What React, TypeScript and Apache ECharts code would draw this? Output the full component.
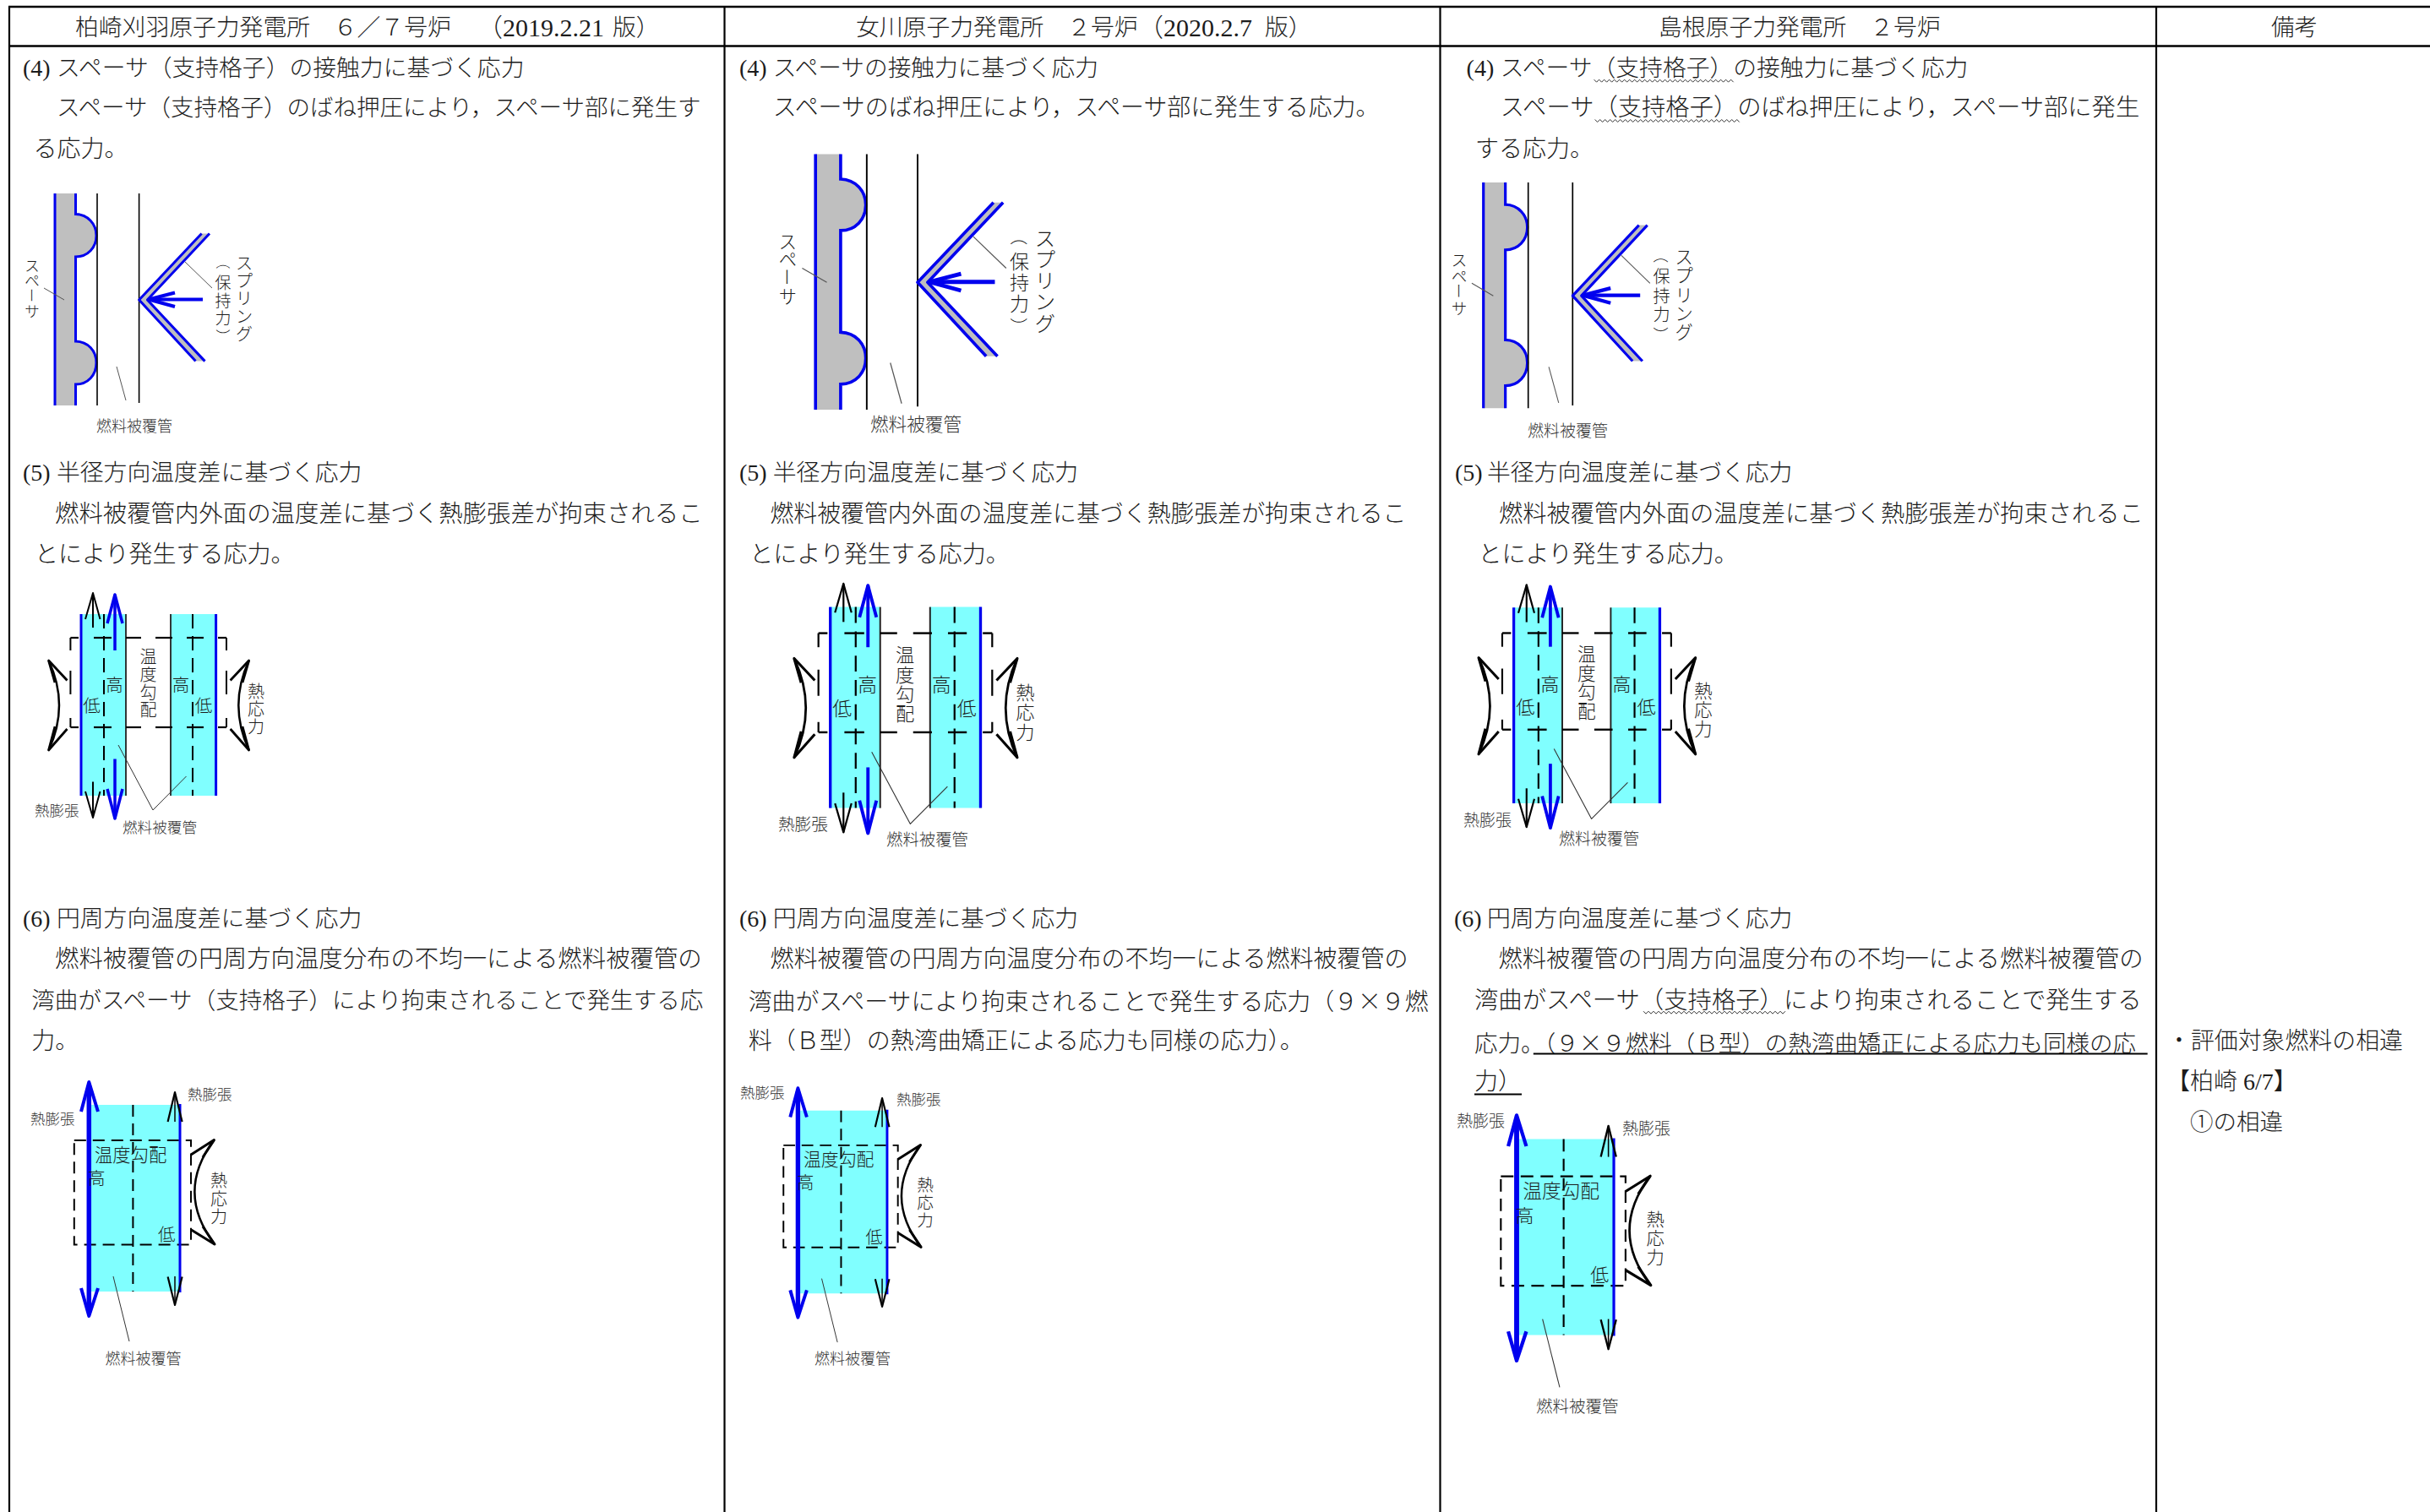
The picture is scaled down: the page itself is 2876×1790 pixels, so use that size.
import React, { useEffect, useRef } from "react";
import * as echarts from "echarts";

const headers = ["柏崎刈羽原子力発電所　６／７号炉", "（2019.2.21", "版）", "女川原子力発電所　２号炉", "（2020.2.7", "版）", "島根原子力発電所　２号炉", "備考"];
const col1Lines = [
  "(4)", "スペーサ（支持格子）の接触力に基づく応力", "スペーサ（支持格子）のばね押圧により，スペーサ部に発生す", "る応力。",
  "(5)", "半径方向温度差に基づく応力", "燃料被覆管内外面の温度差に基づく熱膨張差が拘束されるこ", "とにより発生する応力。",
  "(6)", "円周方向温度差に基づく応力", "燃料被覆管の円周方向温度分布の不均一による燃料被覆管の", "湾曲がスペーサ（支持格子）により拘束されることで発生する応", "力。",
];
const col2Lines = [
  "(4)", "スペーサの接触力に基づく応力", "スペーサのばね押圧により，スペーサ部に発生する応力。",
  "(5)", "半径方向温度差に基づく応力", "燃料被覆管内外面の温度差に基づく熱膨張差が拘束されるこ", "とにより発生する応力。",
  "(6)", "円周方向温度差に基づく応力", "燃料被覆管の円周方向温度分布の不均一による燃料被覆管の", "湾曲がスペーサにより拘束されることで発生する応力（９×９燃", "料（Ｂ型）の熱湾曲矯正による応力も同様の応力）。",
];
const col3Lines = [
  "(4)", "スペーサ（支持格子）の接触力に基づく応力", "スペーサ（支持格子）のばね押圧により，スペーサ部に発生", "する応力。",
  "(5)", "半径方向温度差に基づく応力", "燃料被覆管内外面の温度差に基づく熱膨張差が拘束されるこ", "とにより発生する応力。",
  "(6)", "円周方向温度差に基づく応力", "燃料被覆管の円周方向温度分布の不均一による燃料被覆管の", "湾曲がスペーサ（支持格子）により拘束されることで発生する", "応力。（９×９燃料（Ｂ型）の熱湾曲矯正による応力も同様の応", "力）",
];
const remarkLines = ["・評価対象燃料の相違", "【柏崎 6/7】", "①の相違"];

const col1Layout = [[27,80,28],[67,80,27.8],[67,127.5,27.5],[39.5,176.5,28],[27,559,28],[67,559,27.8],[65,608.4,28.4],[41,656,28],[27,1087,28],[67,1087,27.8],[65,1135,28.4],[37.3,1184,27.56],[37.3,1232.6,28]];
const col2Layout = [[875,80,28],[914.7,80,27.7],[914.7,127.5,27.9],[875,559,28],[914.7,559,27.8],[911.4,608.4,27.9],[887.3,656,28],[875,1087,28],[914.7,1087,27.8],[911.4,1135,28],[885.7,1184,27.9],[885.7,1232.6,28]];
const col3Layout = [[1735.6,80,28],[1775.8,80,27.8],[1775.8,127.5,28.3],[1746,176.5,28],[1722,559,28],[1760,559,27.8],[1774,608.4,28.25],[1749.4,656,28],[1721,1087,28],[1760,1087,27.8],[1773.5,1135,28.3],[1745,1184,28.35],[1745,1232.6,27.5],[1745,1280,28]];
const remarkLayout = [[2565,1232.6,27.9],[2564,1280,28],[2592,1328,27.5]];
const headerLayout = [[89,32,27.8],[565,32,30],[725,32,27.8],[1013,32,27.8],[1347,32,30],[1497,32,27.8],[1963,32,27.8],[2688,32,27.5]];

const INK = "#1c1c1c";
const BLUE = "#0000ee";
const CYAN = "#80ffff";
const GRAY = "#bfbfbf";
const FONT = '"Liberation Serif","Noto Sans CJK JP",sans-serif';
const CJK = '"Noto Sans CJK JP",sans-serif';

echarts.graphic.registerShape("spacerBody", echarts.graphic.extendPath("M65 229H89.5V253.5C104 254 114 265 114 279C114 293 104 304 89.5 304V404C104 404.5 114 415 114 429.5C114 444 104 455 89.5 455V480H65Z", {}));
echarts.graphic.registerShape("spacerNeck", echarts.graphic.extendPath("M89.5 229V253.5C104 254 114 265 114 279C114 293 104 304 89.5 304V404C104 404.5 114 415 114 429.5C114 444 104 455 89.5 455V480", {}));

function T(x: number, y: number, text: string, fs: number, o: any = {}) {
  return { type: "text", x, y, rotation: o.rot || 0, silent: true, style: { text, fontSize: fs, lineHeight: o.lh, fontFamily: o.f || FONT, fontWeight: o.w || 300, fill: o.c || INK, align: o.a || "left", verticalAlign: "middle" } };
}
function L(x1: number, y1: number, x2: number, y2: number, stroke = "#000", lineWidth = 2, lineDash?: number[]) {
  return { type: "line", silent: true, shape: { x1, y1, x2, y2 }, style: { stroke, lineWidth, lineDash } };
}
function P(points: number[][], stroke = "#000", lineWidth = 2) {
  return { type: "polyline", silent: true, shape: { points }, style: { stroke, lineWidth, fill: null, lineJoin: "round" } };
}
function R(x: number, y: number, width: number, height: number, fill: string) {
  return { type: "rect", silent: true, shape: { x, y, width, height }, style: { fill } };
}
function V(x: number, yc: number, str: string, fs: number, pitch: number, c = INK) {
  const chars = Array.from(str);
  const n = chars.length;
  const out: any[] = [];
  const yAt = (i: number) => yc + (i - (n - 1) / 2) * pitch;
  let i = 0;
  while (i < n) {
    if (chars[i] === "ー") {
      out.push(T(x, yAt(i), "ー", fs, { a: "center", rot: -Math.PI / 2, c, f: CJK }));
      i += 1;
    } else {
      let j = i;
      while (j < n && chars[j] !== "ー") j += 1;
      out.push(T(x, yAt((i + j - 1) / 2), chars.slice(i, j).join("\n"), fs, { a: "center", c, f: CJK, lh: pitch }));
      i = j;
    }
  }
  return out;
}
function Q(x1: number, y1: number, cpx1: number, cpy1: number, x2: number, y2: number, lineWidth = 2.5) {
  return { type: "bezierCurve", silent: true, shape: { x1, y1, cpx1, cpy1, x2, y2 }, style: { stroke: "#000", lineWidth, fill: null } };
}
function G(x0: number, y0: number, X: number, Y: number, sx: number, sy: number, children: any[]) {
  return { type: "group", x: X - sx * x0, y: Y - sy * y0, scaleX: sx, scaleY: sy, silent: true, children };
}
function wave(x0: number, x1: number, y: number) {
  const pts: number[][] = [];
  let up = true;
  for (let x = x0; x <= x1; x += 3) { pts.push([x, y + (up ? -1.5 : 1.5)]); up = !up; }
  return P(pts, "#333", 1);
}

function figA(X: number, Y: number, sx: number, sy: number) {
  return G(65, 229, X, Y, sx, sy, [
    { type: "spacerBody", silent: true, style: { fill: GRAY } },
    L(65, 229, 65, 480, BLUE, 3),
    { type: "spacerNeck", silent: true, style: { fill: null, stroke: BLUE, lineWidth: 3 } },
    L(115, 229, 115, 480, "#000", 1.6),
    L(164.6, 229, 164.6, 477, "#000", 1.6),
    { type: "polygon", silent: true, shape: { points: [[238.6,276.5],[248,276.5],[174.4,355],[242.5,427.6],[231.5,427.6],[164.6,355]] }, style: { fill: GRAY } },
    P([[238.6,276.5],[164.6,355],[231.5,427.6]], BLUE, 3),
    P([[248,276.5],[174.4,355],[242.5,427.6]], BLUE, 3),
    L(240, 354.5, 176, 354.5, BLUE, 4),
    P([[207,346.5],[176,354.5],[207,363]], BLUE, 4),
    L(219, 310, 251, 341, "#555", 1),
    L(52, 341, 76, 355, "#555", 1),
    L(138, 434, 149, 474, "#555", 1),
    ...V(38, 340.5, "スペーサ", 17.5, 18),
    ...V(289, 352, "スプリング", 20, 21),
    T(264, 310, "（", 17, { a: "center", f: CJK, rot: -Math.PI / 2 }),
    ...V(264, 354, "保持力", 19, 21),
    T(264, 398, "）", 17, { a: "center", f: CJK, rot: -Math.PI / 2 }),
  ]);
}

function figB(X: number, Y: number, sx: number, sy: number) {
  const hs = [[83.4,93],[111,132],[149,167],[184,204],[221,241],[258,268]];
  const vs = [[755,770],[794,822],[850,861]];
  return G(96, 727, X, Y, sx, sy, [
    R(96, 727, 53, 215, CYAN),
    R(202, 727, 53.6, 215, CYAN),
    L(96, 727, 96, 942, BLUE, 3),
    L(149, 727, 149, 942, "#222", 1.8),
    L(202, 727, 202, 942, "#222", 1.8),
    L(255.6, 727, 255.6, 942, BLUE, 3),
    L(123, 727, 123, 942, "#000", 2, [17, 9]),
    L(228, 727, 228, 942, "#000", 2, [17, 9]),
    ...[755, 861].flatMap((y) => hs.map(([a, b]) => L(a, y, b, y, "#000", 2.2))),
    ...[83.4, 268].flatMap((x) => vs.map(([a, b]) => L(x, a, x, b, "#000", 2))),
    L(110, 702, 110, 743, "#000", 2),
    P([[101,733],[110,702],[118.5,733]], "#000", 2),
    L(110, 925.5, 110, 968, "#000", 2),
    P([[101,937],[110,968],[118.5,937]], "#000", 2),
    L(136, 704, 136, 770, BLUE, 3.5),
    P([[127,738],[136,704],[145,738]], BLUE, 3.5),
    L(136, 898.5, 136, 969, BLUE, 3.5),
    P([[127,934],[136,969],[145,934]], BLUE, 3.5),
    Q(57.6, 782, 82.4, 835, 57.6, 888),
    P([[79.5,805.5],[57.6,782],[65,808]], "#000", 2.8),
    P([[79.5,863],[57.6,888],[65,860]], "#000", 2.8),
    Q(294.6, 782, 270, 835, 294.6, 888),
    P([[272.6,805.5],[294.6,782],[287,808]], "#000", 2.8),
    P([[272.6,863],[294.6,888],[287,860]], "#000", 2.8),
    P([[140,882],[181,959],[220.5,919]], "#333", 1),
    ...V(135.5, 809, "高", 20.5, 21),
    ...V(108.6, 834, "低", 20.5, 21),
    ...V(214, 809, "高", 20.5, 21),
    ...V(241, 834, "低", 20.5, 21),
    ...V(175.5, 808, "温度勾配", 20, 21),
    ...V(303, 838, "熱応力", 20, 21),
  ]);
}

function figC(X: number, Y: number, sx: number, sy: number) {
  return G(105.3, 1308, X, Y, sx, sy, [
    R(103, 1308, 110, 221, CYAN),
    L(157.4, 1308, 157.4, 1529, "#000", 2, [14, 8]),
    { type: "rect", silent: true, shape: { x: 87.8, y: 1350, width: 138.2, height: 123.4 }, style: { fill: null, stroke: "#000", lineWidth: 2, lineDash: [14, 8] } },
    L(105.3, 1285, 105.3, 1554, BLUE, 5.5),
    P([[96,1316],[105.3,1281],[116,1316]], BLUE, 4),
    P([[96,1525],[105.3,1558],[116,1525]], BLUE, 4),
    L(213, 1307, 213, 1530, BLUE, 3),
    L(207, 1293, 207, 1328, "#000", 1.5),
    P([[198.6,1328],[207,1293],[215.6,1328]], "#000", 2.2),
    L(207, 1511, 207, 1545, "#000", 1.5),
    P([[198.6,1511.6],[207,1545],[215.6,1511.6]], "#000", 2.2),
    Q(253.4, 1349.6, 207, 1411.5, 254, 1473, 2.5),
    P([[226,1367],[253.4,1349.6],[240,1370]], "#000", 3),
    P([[226,1455.7],[254,1473],[240,1452]], "#000", 3),
    L(134, 1511, 153, 1588, "#333", 1),
    T(112, 1365, "温度勾配", 21.3, { f: CJK }),
    T(104, 1393, "高", 20.5, { f: CJK }),
    T(187, 1460, "低", 20.5, { f: CJK }),
    ...V(259, 1418, "熱応力", 20, 21.5),
  ]);
}

function rows(lines: string[], layout: number[][], f = FONT) {
  return lines.map((s, i) => T(layout[i][0], layout[i][1], s, layout[i][2], { f: s.includes("×") ? CJK : f }));
}

function buildElements() {
  const border = [
    L(10, 8, 2876, 8, "#000", 2.5),
    L(10, 54.5, 2876, 54.5, "#000", 2.5),
    L(11, 8, 11, 1790, "#000", 2.2),
    L(857.5, 8, 857.5, 1790, "#000", 2.2),
    L(1704.5, 8, 1704.5, 1790, "#000", 2.2),
    L(2552, 8, 2552, 1790, "#000", 2.2),
  ];
  return [
    ...border,
    ...rows(headers, headerLayout),
    ...rows(col1Lines, col1Layout),
    ...rows(col2Lines, col2Layout),
    ...rows(col3Lines, col3Layout),
    ...rows(remarkLines, remarkLayout),
    wave(1886.6, 2053, 95.7),
    wave(1887.7, 2058.8, 143),
    wave(1945, 2115, 1198.7),
    L(1814.8, 1247.5, 2541.7, 1247.5, "#000", 2),
    L(1745, 1295.5, 1801, 1295.5, "#000", 2),
    figA(65, 229, 1, 1),
    figA(965.2, 182.5, 1.213, 1.205),
    figA(1755.7, 216, 1.06, 1.065),
    T(114, 503, "燃料被覆管", 18, { c: "#333", f: CJK }),
    T(1030, 500, "燃料被覆管", 21.6, { c: "#333", f: CJK }),
    T(1808, 508, "燃料被覆管", 19, { c: "#333", f: CJK }),
    figB(96, 727, 1, 1),
    figB(982.7, 718.6, 1.114, 1.107),
    figB(1791.6, 719.3, 1.083, 1.078),
    T(41, 958, "熱膨張", 17.5, { c: "#333", f: CJK }),
    T(145, 978, "燃料被覆管", 17.6, { c: "#333", f: CJK }),
    T(921, 974.6, "熱膨張", 19.6, { c: "#333", f: CJK }),
    T(1049, 992.5, "燃料被覆管", 19.4, { c: "#333", f: CJK }),
    T(1732, 969.5, "熱膨張", 19, { c: "#333", f: CJK }),
    T(1845, 991.5, "燃料被覆管", 19, { c: "#333", f: CJK }),
    figC(105.3, 1308, 1, 1),
    figC(944.4, 1314.7, 0.98, 0.98),
    figC(1795, 1348.6, 1.068, 1.049),
    T(36, 1323, "熱膨張", 17.5, { c: "#333", f: CJK }),
    T(222, 1294, "熱膨張", 17.5, { c: "#333", f: CJK }),
    T(124.5, 1607, "燃料被覆管", 18, { c: "#333", f: CJK }),
    T(876, 1292.8, "熱膨張", 17.5, { c: "#333", f: CJK }),
    T(1061, 1300, "熱膨張", 17.5, { c: "#333", f: CJK }),
    T(964, 1607, "燃料被覆管", 18, { c: "#333", f: CJK }),
    T(1724, 1325, "熱膨張", 19, { c: "#333", f: CJK }),
    T(1920, 1334, "熱膨張", 19, { c: "#333", f: CJK }),
    T(1818, 1663, "燃料被覆管", 19.5, { c: "#333", f: CJK }),
  ];
}

export default function App() {
  const ref = useRef<HTMLDivElement>(null);
  useEffect(() => {
    const chart = echarts.init(ref.current!, null, { renderer: "svg" });
    chart.setOption({ animation: false, backgroundColor: "#fff", graphic: { elements: buildElements() } });
    return () => chart.dispose();
  }, []);
  return <div ref={ref} style={{ position: "absolute", left: 0, top: 0, width: 2876, height: 1790 }} />;
}
